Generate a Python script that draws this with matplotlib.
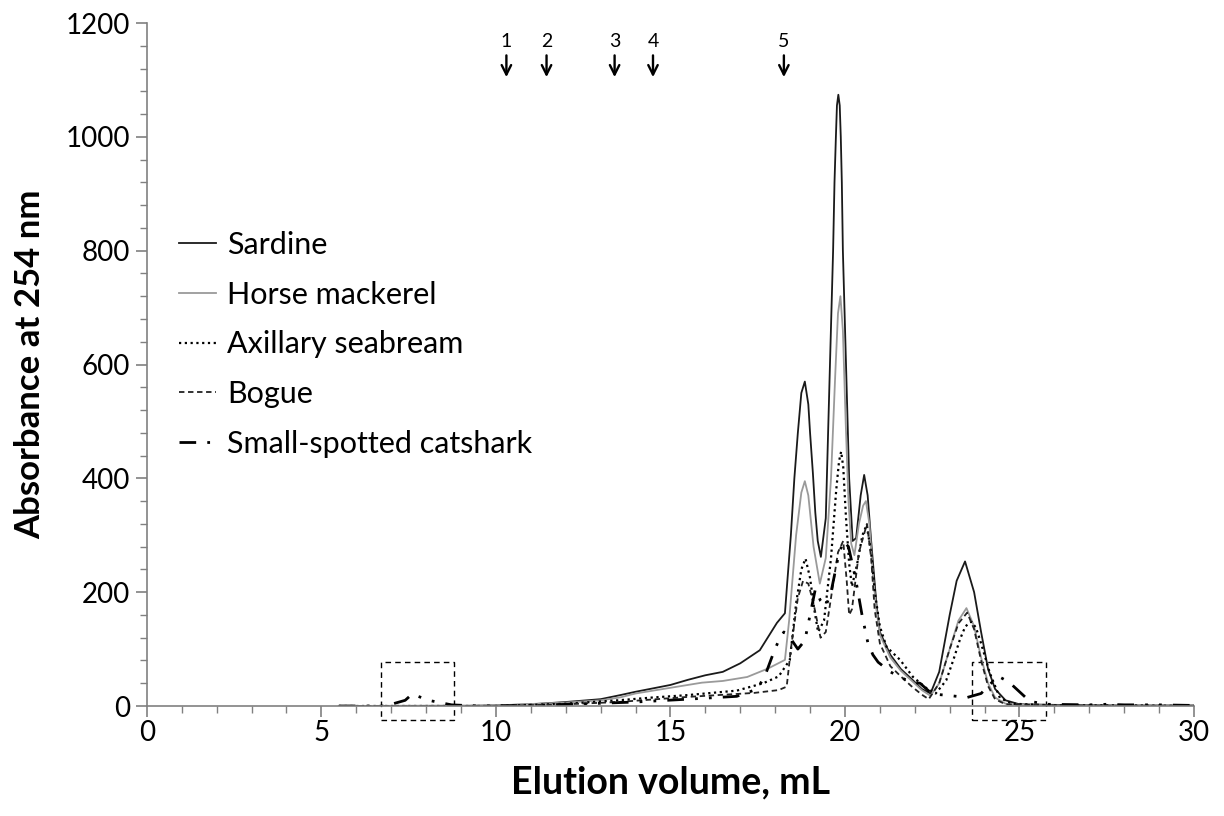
import matplotlib
matplotlib.use("Agg")
import matplotlib.pyplot as plt
from matplotlib.patches import Rectangle
from matplotlib.ticker import MultipleLocator

plt.rcParams['font.family'] = ['Lato', 'DejaVu Sans']

# elution profiles (mL, absorbance)
sardine_x = [5.5, 9, 10, 11, 12, 13, 13.55, 14, 15, 15.5, 16, 16.5, 17, 17.56, 18.05, 18.28, 18.35, 18.45,
             18.55, 18.65, 18.75, 18.85, 18.95, 19.0, 19.08, 19.15, 19.22, 19.31, 19.45, 19.57, 19.66, 19.70,
             19.74, 19.77, 19.81, 19.85, 19.88, 19.91, 19.94, 20.03, 20.12, 20.22, 20.32, 20.45, 20.55, 20.65,
             20.75, 20.9, 21.0, 21.3, 21.6, 21.9, 22.2, 22.45, 22.7, 23.0, 23.2, 23.44, 23.7, 23.9, 24.1, 24.3,
             24.6, 25.0, 26, 28, 30]
sardine_y = [0, 0, 1, 3, 7, 12, 19, 25, 37, 46, 54, 60, 75, 98, 146, 163, 220, 300,
             400, 480, 550, 570, 530, 480, 410, 340, 290, 262, 330, 600, 800, 920,
             1000, 1055, 1074, 1055, 1000, 920, 800, 600, 400, 290, 295, 370, 406, 370,
             290, 180, 130, 90, 65, 48, 30, 22, 60, 160, 220, 254, 200, 130, 65, 30,
             10, 3, 2, 1, 1]

horse_x = [5.5, 10, 12, 13, 13.55, 14, 15, 15.9, 16.5, 17.2, 17.8, 18.28, 18.4, 18.6, 18.75, 18.85, 18.95,
           19.1, 19.28, 19.45, 19.6, 19.72, 19.8, 19.87, 19.94, 20.02, 20.1, 20.18, 20.27, 20.4, 20.52, 20.6,
           20.7, 20.8, 20.9, 21.0, 21.3, 21.6, 21.9, 22.2, 22.45, 22.7, 23.0, 23.25, 23.48, 23.7, 23.9, 24.1,
           24.3, 24.6, 25, 26, 28, 30]
horse_y = [0, 1, 6, 10, 15, 22, 32, 41, 44, 51, 66, 81, 150, 300, 375, 395, 370,
           280, 215, 260, 400, 580, 690, 720, 660, 500, 360, 285, 265, 320, 352, 360,
           320, 230, 170, 125, 85, 62, 45, 28, 18, 40, 100, 150, 172, 140, 85, 40,
           15, 4, 2, 1, 1, 1]

seabream_x = [5.5, 10, 12, 13.5, 14.5, 15.46, 16.9, 17.66, 18.1, 18.42, 18.6, 18.75, 18.87, 19.0, 19.12, 19.23,
              19.4, 19.6, 19.75, 19.83, 19.89, 19.95, 20.03, 20.12, 20.2, 20.35, 20.5, 20.62, 20.75, 20.86, 21.0,
              21.19, 21.58, 21.95, 22.34, 22.6, 22.9, 23.1, 23.3, 23.45, 23.62, 23.75, 23.87, 24.15, 24.44, 24.8,
              26, 28, 30]
seabream_y = [0, 0, 4, 10, 15, 19, 27, 40, 52, 81, 180, 240, 259, 225, 170, 130,
              150, 260, 380, 430, 447, 420, 330, 250, 210, 250, 300, 318, 270, 198, 140,
              104, 81, 51, 31, 22, 45, 80, 118, 140, 148, 138, 116, 58, 14, 4,
              1, 1, 0]

bogue_x = [5.5, 10, 12, 13.5, 15.5, 17.4, 18.1, 18.33, 18.45, 18.65, 18.8, 18.95, 19.1, 19.3, 19.45, 19.6, 19.8,
           19.95, 20.05, 20.12, 20.2, 20.4, 20.63, 20.75, 20.85, 21.0, 21.3, 21.6, 21.9, 22.2, 22.4, 22.7, 23.0,
           23.25, 23.5, 23.7, 23.9, 24.1, 24.3, 24.6, 26, 28, 30]
bogue_y = [0, 0, 3, 7, 16, 23, 28, 34, 100, 190, 220, 215, 180, 120, 130, 190, 270,
           290, 220, 160, 170, 270, 320, 260, 170, 110, 70, 52, 35, 20, 12, 40, 100,
           145, 164, 135, 80, 35, 12, 3, 1, 0, 0]

catshark_x = [5.5, 6.8, 7.0, 7.4, 7.6, 7.9, 8.15, 8.73, 9.5, 11, 12.6, 14, 15.5, 16.9, 17.5, 17.75, 17.95,
              18.1, 18.25, 18.45, 18.65, 18.85, 19.0, 19.15, 19.3, 19.45, 19.6, 19.8, 19.95, 20.1, 20.3, 20.5,
              20.66, 20.8, 20.95, 21.3, 21.6, 21.9, 22.15, 22.5, 22.9, 23.2, 23.5, 23.9, 24.15, 24.4, 24.7,
              25.0, 25.3, 25.8, 27, 27.5, 28, 29, 30]
catshark_y = [0, 0, 3, 10, 21, 14, 9, 2, 0, 1, 4, 7, 12, 17, 30, 60, 93,
              115, 130, 118, 100, 115, 160, 205, 185, 175, 200, 260, 290, 280, 225, 156,
              110, 90, 77, 60, 50, 42, 40, 21, 19, 17, 15, 22, 38, 52, 42,
              25, 8, 3, 2, 3, 2, 2, 1]

marker_pos = [10.3, 11.45, 13.4, 14.5, 18.25]
marker_lbl = ['1', '2', '3', '4', '5']

fig = plt.figure(figsize=(12.24, 8.16), dpi=100)
ax = fig.add_axes([0.120, 0.1348, 0.8555, 0.837])

ax.plot(sardine_x, sardine_y, color='#1a1a1a', lw=1.3, label='Sardine')
ax.plot(horse_x, horse_y, color='#9a9a9a', lw=1.3, label='Horse mackerel')
ax.plot(seabream_x, seabream_y, color='black', lw=1.6, ls=(0, (1, 1.6)), label='Axillary seabream')
ax.plot(bogue_x, bogue_y, color='#222222', lw=1.3, ls=(0, (3, 2)), label='Bogue')
ax.plot(catshark_x, catshark_y, color='black', lw=2.0, ls=(0, (6, 4, 1, 4, 1, 4)),
        label='Small-spotted catshark')

# dashed boxes around the small peaks
for x0, x1 in [(6.7, 8.8), (23.65, 25.75)]:
    ax.add_patch(Rectangle((x0, -24), x1 - x0, 102, fill=False, ls=(0, (4, 3)),
                           lw=1.0, ec='black', clip_on=False))

# calibration markers
for xp, lb in zip(marker_pos, marker_lbl):
    ax.text(xp, 1168, lb, ha='center', va='center', fontsize=14)
    ax.annotate('', xy=(xp, 1100), xytext=(xp, 1148),
                arrowprops=dict(arrowstyle='->', lw=1.7, color='black', mutation_scale=17))

ax.set_xlim(0, 30)
ax.set_ylim(0, 1200)
ax.xaxis.set_major_locator(MultipleLocator(5))
ax.xaxis.set_minor_locator(MultipleLocator(1))
ax.yaxis.set_major_locator(MultipleLocator(200))
ax.yaxis.set_minor_locator(MultipleLocator(40))

for s in ['top', 'right']:
    ax.spines[s].set_visible(False)
for s in ['left', 'bottom']:
    ax.spines[s].set_color('#808080')
    ax.spines[s].set_linewidth(1.2)
ax.tick_params(which='major', direction='out', length=8, width=1.2, color='#808080',
               labelsize=20, pad=4)
ax.tick_params(axis='x', which='major', pad=2)
ax.tick_params(which='minor', direction='out', length=5, width=1.0, color='#808080')

ax.set_xlabel('Elution volume, mL', fontsize=27, fontweight='bold', labelpad=14)
ax.set_ylabel('Absorbance at 254 nm', fontsize=25, fontweight='bold', labelpad=14)

ax.legend(loc='upper left', bbox_to_anchor=(0.0165, 0.718), frameon=False, fontsize=22,
          handlelength=1.2, handletextpad=0.35, labelspacing=0.71, borderpad=0)

fig.savefig('out.png', dpi=100)
